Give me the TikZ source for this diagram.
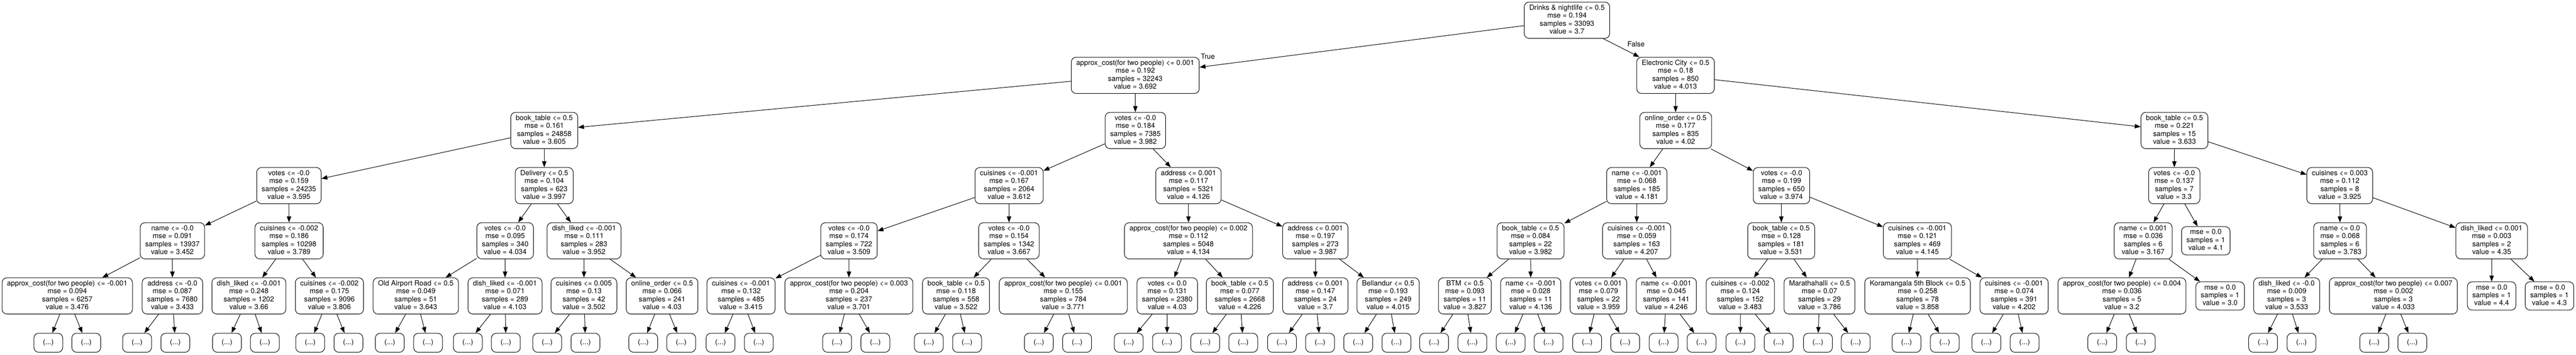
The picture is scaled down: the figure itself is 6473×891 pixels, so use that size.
\documentclass[tikz,border=0pt]{standalone}
\usepackage{fontspec}
\setmainfont{TeX Gyre Heros}
\usetikzlibrary{arrows.meta}

\begin{document}
\begin{tikzpicture}[x=1pt, y=-1pt, line width=1.3pt, >={Triangle[length=15pt,width=11pt]},
 every node/.style={font=\fontsize{17.9}{20}\selectfont},
 splitbox/.style={draw, rounded corners=12pt, align=center, inner xsep=12.5pt, inner ysep=0pt, minimum height=91pt},
 leafbox/.style={splitbox, minimum height=71pt},
 morebox/.style={draw, rounded corners=12pt, inner sep=0pt, minimum width=72.5pt, minimum height=47.7pt}]
\useasboundingbox (0,0) rectangle (6473,891);
\foreach \nm/\xx/\rk/\cond/\mse/\smp/\val in {
 r/3937.5/0/Drinks \& nightlife <= 0.5/0.194/33093/3.7,
 rt/2852.7/1/approx\_cost(for two people) <= 0.001/0.192/32243/3.692,
 rf/4210.3/1/Electronic City <= 0.5/0.18/850/4.013,
 rtt/1367.6/2/book\_table <= 0.5/0.161/24858/3.605,
 rtf/2853/2/votes <= -0.0/0.184/7385/3.982,
 rft/4210.6/2/online\_order <= 0.5/0.177/835/4.02,
 rff/5464/2/book\_table <= 0.5/0.221/15/3.633,
 rttt/726/3/votes <= -0.0/0.159/24235/3.595,
 rttf/1367.6/3/Delivery <= 0.5/0.104/623/3.997,
 rtft/2535.7/3/cuisines <= -0.001/0.167/2064/3.612,
 rtff/2986.4/3/address <= 0.001/0.117/5321/4.126,
 rftt/4113/3/name <= -0.001/0.068/185/4.181,
 rftf/4476.5/3/votes <= -0.0/0.199/650/3.974,
 rfft/5463.5/3/votes <= -0.0/0.137/7/3.3,
 rfff/5879.4/3/cuisines <= 0.003/0.112/8/3.925,
 rtttt/433.2/4/name <= -0.0/0.091/13937/3.452,
 rtttf/726.4/4/cuisines <= -0.002/0.186/10298/3.789,
 rttft/1269.4/4/votes <= -0.0/0.095/340/4.034,
 rttff/1467.6/4/dish\_liked <= -0.001/0.111/283/3.952,
 rtftt/2133.3/4/votes <= -0.0/0.174/722/3.509,
 rtftf/2535.3/4/votes <= -0.0/0.154/1342/3.667,
 rtfft/2986.4/4/approx\_cost(for two people) <= 0.002/0.112/5048/4.134,
 rtfff/3305.2/4/address <= 0.001/0.197/273/3.987,
 rfttt/3846/4/book\_table <= 0.5/0.084/22/3.982,
 rfttf/4112.7/4/cuisines <= -0.001/0.059/163/4.207,
 rftft/4475.8/4/book\_table <= 0.5/0.128/181/3.531,
 rftff/4818/4/cuisines <= -0.001/0.121/469/4.145,
 rfftt/5385.3/4/name <= 0.001/0.036/6/3.167,
 rffft/5880/4/name <= 0.0/0.068/6/3.783,
 rffff/6261/4/dish\_liked <= 0.001/0.003/2/4.35,
 rttttt/169/5/approx\_cost(for two people) <= -0.001/0.094/6257/3.476,
 rttttf/433.2/5/address <= -0.0/0.087/7680/3.433,
 rtttft/625.4/5/dish\_liked <= -0.001/0.248/1202/3.66,
 rtttff/827.8/5/cuisines <= -0.002/0.175/9096/3.806,
 rttftt/1044.8/5/Old Airport Road <= 0.5/0.049/51/3.643,
 rttftf/1269/5/dish\_liked <= -0.001/0.071/289/4.103,
 rttfft/1467.3/5/cuisines <= 0.005/0.13/42/3.502,
 rttfff/1663.7/5/online\_order <= 0.5/0.066/241/4.03,
 rtfttt/1862/5/cuisines <= -0.001/0.132/485/3.415,
 rtfttf/2133.2/5/approx\_cost(for two people) <= 0.003/0.204/237/3.701,
 rtftft/2402.4/5/book\_table <= 0.5/0.118/558/3.522,
 rtftff/2671.8/5/approx\_cost(for two people) <= 0.001/0.155/784/3.771,
 rtfftt/2933/5/votes <= 0.0/0.131/2380/4.03,
 rtfftf/3115.5/5/book\_table <= 0.5/0.077/2668/4.226,
 rtffft/3305.2/5/address <= 0.001/0.147/24/3.7,
 rtffff/3488/5/Bellandur <= 0.5/0.193/249/4.015,
 rftttt/3681/5/BTM <= 0.5/0.093/11/3.827,
 rftttf/3846.5/5/name <= -0.001/0.028/11/4.136,
 rfttft/4016.6/5/votes <= 0.001/0.079/22/3.959,
 rfttff/4187/5/name <= -0.001/0.045/141/4.246,
 rftftt/4373/5/cuisines <= -0.002/0.124/152/3.483,
 rftftf/4572/5/Marathahalli <= 0.5/0.07/29/3.786,
 rftfft/4818.5/5/Koramangala 5th Block <= 0.5/0.258/78/3.858,
 rftfff/5061/5/cuisines <= -0.001/0.074/391/4.202,
 rffttt/5332/5/approx\_cost(for two people) <= 0.004/0.036/5/3.2,
 rffftt/5746/5/dish\_liked <= -0.0/0.009/3/3.533,
 rffftf/6014/5/approx\_cost(for two people) <= 0.007/0.002/3/4.033}
 \node[splitbox] (\nm) at (\xx,{50.8+138.55*\rk}) {\strut\cond\\mse = \mse\\samples = \smp\\value = \val\strut};
\node[leafbox] (rfftf) at (5542.7,605) {\strut mse = 0.0\\samples = 1\\value = 4.1\strut};
\node[leafbox] (rffttf) at (5578.6,743.6) {\strut mse = 0.0\\samples = 1\\value = 3.0\strut};
\node[leafbox] (rfffft) at (6261,743.6) {\strut mse = 0.0\\samples = 1\\value = 4.4\strut};
\node[leafbox] (rfffff) at (6406.3,743.6) {\strut mse = 0.0\\samples = 1\\value = 4.3\strut};
\foreach \p/\xl/\xr in {rttttt/121.4/216.8, rttttf/344.4/440.5, rtttft/570.3/665.7, rtttff/779.4/875.5,
 rttftt/979.5/1075.5, rttftf/1175.5/1271.2, rttfft/1375/1471.1, rttfff/1616.3/1711.7,
 rtfttt/1810.6/1906.7, rtfttf/2103.5/2199.5, rtftft/2334/2430, rtftff/2610.4/2706.5,
 rtfftt/2836.3/2932.4, rtfftf/3028.5/3123.9, rtffft/3221.3/3317, rtffff/3413/3509,
 rftttt/3603.7/3699.9, rftttf/3796/3891.4, rfttft/3988.2/4083.6, rfttff/4180.4/4275.8,
 rftftt/4373.3/4469.3, rftftf/4568/4663, rftfft/4790.7/4886.8, rftfff/4991.4/5087.5,
 rffttt/5282.5/5379.3, rffftt/5686.7/5783.2, rffftf/5965.9/6061.7} {
 \node[morebox] (\p t) at (\xl,861.2) {(...)};
 \node[morebox] (\p f) at (\xr,861.2) {(...)};
 \draw[->] (\p) -- (\p t);
 \draw[->] (\p) -- (\p f);
}
\foreach \p in {r, rt, rf, rtt, rtf, rft, rff, rttt, rttf, rtft, rtff, rftt, rftf, rfft, rfff,
 rtttt, rtttf, rttft, rttff, rtftt, rtftf, rtfft, rtfff, rfttt, rfttf, rftft, rftff, rfftt, rffft, rffff} {
 \draw[->] (\p) -- (\p t);
 \draw[->] (\p) -- (\p f);
}
\node (truelbl) at (3035,142) {True};
\node (falselbl) at (4111,110.5) {False};
\end{tikzpicture}
\end{document}
